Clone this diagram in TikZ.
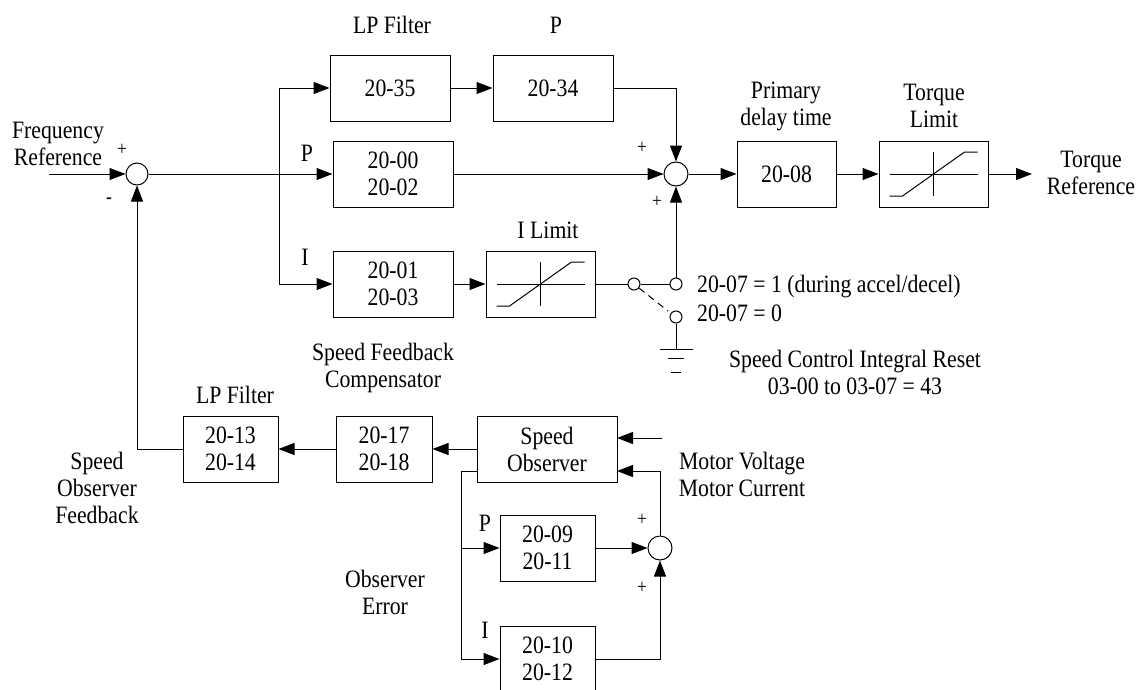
\documentclass[tikz,border=0pt]{standalone}
\usepackage{fontspec}
\setmainfont{Liberation Serif}[FakeStretch=0.87]
\usetikzlibrary{arrows.meta,calc}
\tikzset{
  blk/.style={draw,line width=1pt,inner sep=0pt,align=center,font=\fontsize{25}{27}\selectfont},
  sumc/.style={draw,circle,line width=1pt,inner sep=0pt,minimum size=24pt},
  swc/.style={draw,circle,line width=1pt,inner sep=0pt,minimum size=12pt},
  lbl/.style={inner sep=0pt,align=center,font=\fontsize{25}{27}\selectfont},
  sgn/.style={inner sep=0pt,font=\fontsize{20}{20}\selectfont},
  wire/.style={line width=1pt},
  arr/.style={line width=1pt,-{Triangle[length=16pt,width=12pt]}},
}
\newcommand{\satsym}[1]{%
  \draw[line width=1pt] ($(#1)+(-44,0)$) -- ($(#1)+(44,0)$);
  \draw[line width=1pt] ($(#1)+(0,-22)$) -- ($(#1)+(0,22)$);
  \draw[line width=1pt] ($(#1)+(-44,22)$) -- ($(#1)+(-31,22)$) -- ($(#1)+(31,-22)$) -- ($(#1)+(44,-22)$);
}
\begin{document}
\begin{tikzpicture}[x=1pt,y=-1pt]
\useasboundingbox (0,0) rectangle (1138,689);
% blocks
\node[blk,minimum width=120pt,minimum height=66pt] (b2035) at (390,88) {20-35};
\node[blk,minimum width=120pt,minimum height=66pt] (b2034) at (553,88) {20-34};
\node[blk,minimum width=120pt,minimum height=66pt] (b2000) at (393,174) {20-00\\20-02};
\node[blk,minimum width=120pt,minimum height=66pt] (b2001) at (393,284) {20-01\\20-03};
\node[blk,minimum width=109pt,minimum height=66pt] (blim) at (540.5,284) {};
\node[blk,minimum width=99pt,minimum height=66pt] (b2008) at (786.5,174) {20-08};
\node[blk,minimum width=109pt,minimum height=66pt] (btl) at (933.5,174) {};
\node[blk,minimum width=95pt,minimum height=66pt] (b2013) at (230.5,449) {20-13\\20-14};
\node[blk,minimum width=96pt,minimum height=66pt] (b2017) at (384,449) {20-17\\20-18};
\node[blk,minimum width=140pt,minimum height=66pt] (bso) at (547,449) {Speed\\Observer};
\node[blk,minimum width=95pt,minimum height=66pt] (b2009) at (547.5,548) {20-09\\20-11};
\node[blk,minimum width=95pt,minimum height=66pt] (b2010) at (547.5,659) {20-10\\20-12};
\satsym{blim}
\satsym{btl}
% summing junctions
\node[sumc,minimum size=22pt] (s1) at (137,174) {};
\node[sumc] (s2) at (676,174) {};
\node[sumc] (s3) at (660,548) {};
% switch
\node[swc] (sw1) at (634,284) {};
\node[swc] (sw2) at (676,284) {};
\node[swc] (sw3) at (676,317) {};
% coordinates
\coordinate (fin) at (49,174);
\coordinate (br) at (279,174);
\coordinate (fout) at (1032,174);
\coordinate (gnd) at (676,349);
\coordinate (obo) at (477,471);
\coordinate (obj) at (461,471);
\coordinate (soin1) at (617,438);
\coordinate (soin2) at (617,471);
\coordinate (mvin) at (662,438);
% upper loop
\draw[arr] (fin) -- (s1);
\draw[wire] (s1) -- (br);
\draw[arr] (br) |- (b2035);
\draw[arr] (br) -- (b2000);
\draw[arr] (br) |- (b2001);
\draw[arr] (b2035) -- (b2034);
\draw[arr] (b2034.east) -| (s2.north);
\draw[arr] (b2000) -- (s2);
\draw[arr] (b2001) -- (blim);
\draw[wire] (blim) -- (sw1);
\draw[wire] (sw1) -- (sw2);
\draw[arr] (sw2) -- (s2);
\draw[wire] (sw3) -- (gnd);
\draw[wire,dash pattern=on 7pt off 5pt] (639,288) -- (668,311);
\draw[wire] ($(gnd)+(-16.5,0)$) -- ($(gnd)+(16.5,0)$);
\draw[wire] ($(gnd)+(-8,9)$) -- ($(gnd)+(8,9)$);
\draw[wire] ($(gnd)+(-5,23)$) -- ($(gnd)+(5,23)$);
\draw[arr] (s2) -- (b2008);
\draw[arr] (b2008) -- (btl);
\draw[arr] (btl) -- (fout);
% feedback
\draw[arr] (bso.west) -- (b2017.east);
\draw[arr] (b2017) -- (b2013);
\draw[arr] (b2013.west) -| (s1.south);
\draw[wire] (obo) -- (obj);
\draw[arr] (obj) |- (b2009);
\draw[arr] (obj) |- (b2010);
\draw[arr] (b2009) -- (s3);
\draw[arr] (b2010) -| (s3);
\draw[arr] (s3) |- (soin2);
\draw[arr] (mvin) -- (soin1);
% labels
\node[lbl] (tfr) at (58,144) {Frequency\\Reference};
\node[sgn] (p1) at (122,150) {+};
\node[sgn] (m1) at (109,201) {\textbf{-}};
\node[lbl] (tlp1) at (392,25) {LP Filter};
\node[lbl] (tp1) at (556,25) {P};
\node[lbl] (tp2) at (307,153) {P};
\node[lbl] (ti1) at (305,257) {I};
\node[lbl] (til) at (548,230) {I Limit};
\node[lbl] (tpd) at (786,106) {Primary\\delay time};
\node[lbl] (ttl) at (934,106) {Torque\\Limit};
\node[lbl] (ttr) at (1091,173) {Torque\\Reference};
\node[sgn] (p2) at (642,148) {+};
\node[sgn] (p3) at (657,202) {+};
\node[lbl,anchor=west] (tsw1) at (697,287) {20-07 = 1 (during accel/decel)};
\node[lbl,anchor=west] (tsw0) at (697,313) {20-07 = 0};
\node[lbl] (tres) at (855,372) {Speed Control Integral Reset\\03-00 to 03-07 = 43};
\node[lbl] (tsfc) at (383,368) {Speed Feedback\\Compensator};
\node[lbl] (tlp2) at (235,395) {LP Filter};
\node[lbl] (tsof) at (97,488) {Speed\\Observer\\Feedback};
\node[lbl] (tmv) at (742,474) {Motor Voltage\\Motor Current};
\node[sgn] (p4) at (642,520) {+};
\node[sgn] (p5) at (642,588) {+};
\node[lbl] (tp3) at (485,523) {P};
\node[lbl] (ti2) at (485,630) {I};
\node[lbl] (toe) at (385,592) {Observer\\Error};
\end{tikzpicture}
\end{document}
